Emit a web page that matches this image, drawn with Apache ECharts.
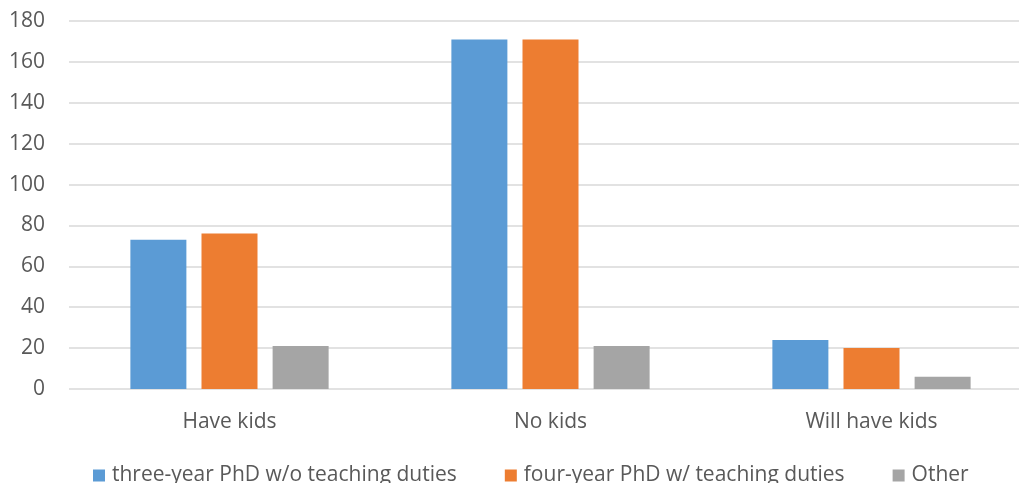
<!DOCTYPE html>
<html>
<head>
<meta charset="utf-8">
<script src="https://cdn.jsdelivr.net/npm/echarts@6/dist/echarts.min.js"></script>
<style>
  html, body { margin: 0; padding: 0; background: #fff; }
  #chart { width: 1019px; height: 483px; }
</style>
</head>
<body>
<div id="chart"></div>
<script>
const categories = ["Have kids", "No kids", "Will have kids"];
const threeYear = [73, 171, 24];
const fourYear = [76, 171, 20];
const other = [21, 21, 6];
const seriesNames = ["three-year PhD w/o teaching duties", "four-year PhD w/ teaching duties", "Other"];
const colors = ["#5b9bd5", "#ed7d31", "#a5a5a5"];

const font = "Open Sans";
const chart = echarts.init(document.getElementById("chart"));

function bar(name, data, color) {
  return {
    name: name,
    type: "bar",
    data: data,
    barWidth: 56,
    barGap: "27%",
    itemStyle: { color: color },
    animation: false
  };
}

chart.setOption({
  animation: false,
  textStyle: { fontFamily: font },
  // plot area runs past the right edge of the picture, like the cropped original
  grid: { left: 69, top: 21, width: 963, height: 368, outerBoundsMode: "none" },
  xAxis: {
    type: "category",
    data: categories,
    axisLine: { show: false },
    axisTick: { show: false },
    axisLabel: { color: "#595959", fontSize: 21, margin: 23, fontFamily: font }
  },
  yAxis: {
    type: "value",
    min: 0,
    max: 180,
    interval: 20,
    axisLine: { show: false },
    axisTick: { show: false },
    axisLabel: { color: "#595959", fontSize: 21, margin: 24, fontFamily: font },
    splitLine: { lineStyle: { color: "#d9d9d9", width: 1.5 } }
  },
  legend: {
    top: 460,
    left: 88,
    itemWidth: 12,
    itemHeight: 12,
    itemGap: 48,
    icon: "rect",
    textStyle: { color: "#595959", fontSize: 21, fontFamily: font, padding: [0, 0, 0, 2] },
    data: seriesNames
  },
  series: [
    bar(seriesNames[0], threeYear, colors[0]),
    bar(seriesNames[1], fourYear, colors[1]),
    bar(seriesNames[2], other, colors[2])
  ]
});
</script>
</body>
</html>
